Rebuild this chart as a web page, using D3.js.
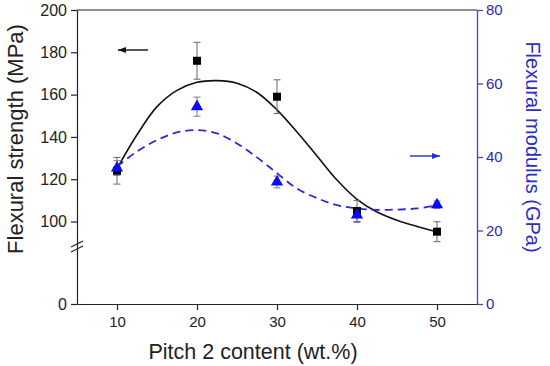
<!DOCTYPE html>
<html><head><meta charset="utf-8">
<script src="https://cdn.jsdelivr.net/npm/d3@7"></script>
<style>body{margin:0;background:#fff}svg{display:block;font-family:Arial,"Liberation Sans",sans-serif}</style>
</head><body><svg id="c" width="550" height="366"></svg>
<script>
const content = [10, 20, 30, 40, 50];
const strength = [124, 176, 159, 105, 95.2];
const strengthErr = [6.3, 8.7, 8, 5, 4.7];
const modulus = [37, 53.7, 33.2, 24.2, 27];
const modulusErr = [2, 2.6, 1.6, 2, 1];
const fitX = [10, 12.5, 15, 17.5, 20, 22.5, 25, 27.5, 30, 32.5, 35, 37.5, 40, 42.5, 45, 47.5, 50];
const strengthFit = [125, 141, 154.3, 162, 165.8, 166.6, 165.4, 161, 152.8, 142.3, 131, 119.6, 110.5, 104.5, 100.6, 97.7, 95.2];
const modulusFit = [37.4, 41.5, 44.6, 46.7, 47.3, 46.4, 43.7, 39.9, 35.6, 31.4, 28.8, 26.9, 26.0, 25.6, 25.7, 26.0, 26.9];
const xTicks = [10, 20, 30, 40, 50];
const leftTicks = [0, 100, 120, 140, 160, 180, 200];
const rightTicks = [0, 20, 40, 60, 80];

const svg = d3.select("#c");
const x = d3.scaleLinear().domain([5, 55]).range([77, 477]);
const yL = d3.scaleLinear().domain([0, 89, 200]).range([304, 244.8, 10]);
const yR = d3.scaleLinear().domain([0, 80]).range([304, 10]);

const dark = "#222", blueAxis = "#4646c4", blueText = "#2a2ab8";

// frame top
svg.append("line").attr("x1", 77).attr("x2", 477).attr("y1", 10).attr("y2", 10).attr("stroke", dark).attr("stroke-width", 1.2);

// bottom axis
const gx = svg.append("g").attr("transform", "translate(0,304)")
  .call(d3.axisBottom(x).tickValues(xTicks).tickSize(6).tickSizeOuter(0));
gx.select(".domain").attr("stroke", dark).attr("stroke-width", 1.2);
gx.selectAll(".tick line").attr("stroke", dark).attr("stroke-width", 1.2);
gx.selectAll("text").attr("font-size", 15).attr("fill", dark).attr("dy", "1em").attr("y", 8);

// left axis
const gl = svg.append("g").attr("transform", "translate(77,0)")
  .call(d3.axisLeft(yL).tickValues(leftTicks).tickSize(6).tickSizeOuter(0));
gl.select(".domain").attr("stroke", dark).attr("stroke-width", 1.2);
gl.selectAll(".tick line").attr("stroke", dark).attr("stroke-width", 1.2);
gl.selectAll("text").attr("font-size", 16).attr("fill", dark).attr("x", -10);

// axis break marks
[0, 5].forEach(o => {
  svg.append("line").attr("x1", 71).attr("y1", 247 + o).attr("x2", 83).attr("y2", 241 + o)
    .attr("stroke", dark).attr("stroke-width", 1.1);
});

// right axis
const gr = svg.append("g").attr("transform", "translate(477,0)")
  .call(d3.axisRight(yR).tickValues(rightTicks).tickSize(6).tickSizeOuter(0));
gr.select(".domain").attr("stroke", blueAxis).attr("stroke-width", 1.3);
gr.selectAll(".tick line").attr("stroke", blueAxis).attr("stroke-width", 1.3);
gr.selectAll("text").attr("font-size", 15).attr("fill", blueText).attr("x", 9);

// titles
svg.append("text").attr("x", 253).attr("y", 359).attr("text-anchor", "middle")
  .attr("font-size", 21.5).attr("fill", dark).text("Pitch 2 content (wt.%)");
svg.append("text").attr("transform", "translate(23,139) rotate(-90)").attr("text-anchor", "middle")
  .attr("font-size", 22).attr("fill", dark).text("Flexural strength (MPa)");
svg.append("text").attr("transform", "translate(526,147) rotate(90)").attr("text-anchor", "middle")
  .attr("font-size", 20).attr("fill", "#2c2cc8").text("Flexural modulus (GPa)");

// fit curves
const fitS = fitX.map((v, i) => [v, strengthFit[i]]);
const fitM = fitX.map((v, i) => [v, modulusFit[i]]);
svg.append("path").datum(fitS)
  .attr("d", d3.line().x(d => x(d[0])).y(d => yL(d[1])).curve(d3.curveCatmullRom))
  .attr("fill", "none").attr("stroke", "#111").attr("stroke-width", 1.6);
svg.append("path").datum(fitM)
  .attr("d", d3.line().x(d => x(d[0])).y(d => yR(d[1])).curve(d3.curveCatmullRom))
  .attr("fill", "none").attr("stroke", "#2a2ad0").attr("stroke-width", 1.8).attr("stroke-dasharray", "8,5");

// error bars
function errBars(vals, errs, y, color) {
  const g = svg.append("g").attr("stroke", color).attr("stroke-width", 1);
  content.forEach((c, i) => {
    const cx = x(c), t = y(vals[i] + errs[i]), b = y(vals[i] - errs[i]);
    g.append("line").attr("x1", cx).attr("x2", cx).attr("y1", t).attr("y2", b);
    g.append("line").attr("x1", cx - 3.5).attr("x2", cx + 3.5).attr("y1", t).attr("y2", t);
    g.append("line").attr("x1", cx - 3.5).attr("x2", cx + 3.5).attr("y1", b).attr("y2", b);
  });
}
errBars(strength, strengthErr, yL, "#666");
errBars(modulus, modulusErr, yR, "#7777aa");

// markers
svg.append("g").selectAll("rect").data(content).join("rect")
  .attr("x", (d) => x(d) - 4).attr("y", (d, i) => yL(strength[i]) - 4)
  .attr("width", 8).attr("height", 8).attr("fill", "#000");
const tri = d3.symbol().type(d3.symbolTriangle).size(65);
svg.append("g").selectAll("path").data(content).join("path")
  .attr("transform", (d, i) => `translate(${x(d)},${yR(modulus[i])})`)
  .attr("d", tri).attr("fill", "#0a0af5");

// arrows
function arrow(x1, x2, y, color) {
  svg.append("line").attr("x1", x1).attr("x2", x2).attr("y1", y).attr("y2", y)
    .attr("stroke", color).attr("stroke-width", 1.4);
  const dir = Math.sign(x2 - x1);
  svg.append("path").attr("d", `M${x2},${y} L${x2 - dir * 8},${y - 3} L${x2 - dir * 8},${y + 3} Z`).attr("fill", color);
}
arrow(148, 118, 50, "#111");
arrow(410, 440, 156, "#2a2ad0");
</script></body></html>
